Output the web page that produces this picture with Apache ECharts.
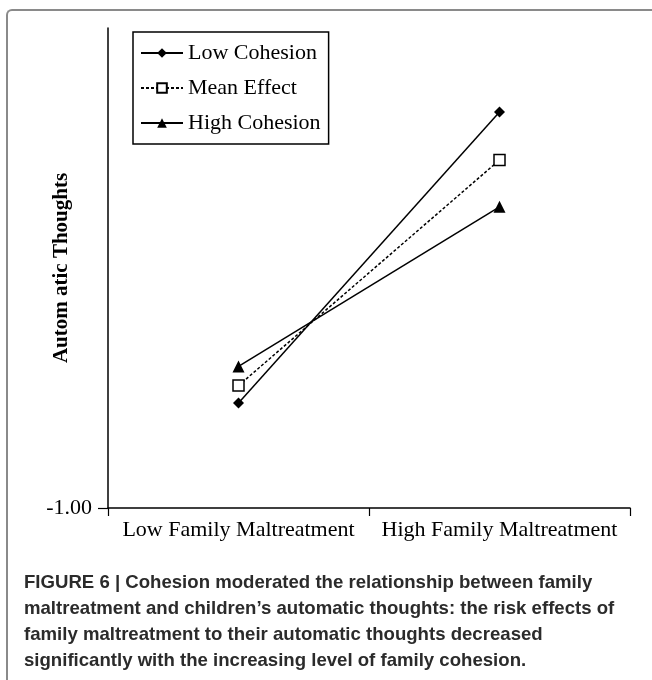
<!DOCTYPE html>
<html>
<head>
<meta charset="utf-8">
<script src="https://cdn.jsdelivr.net/npm/echarts@6/dist/echarts.min.js"></script>
<style>
  html, body { margin: 0; padding: 0; background: #fff; }
  #frame { position: absolute; left: 6px; top: 9px; width: 700px; height: 720px;
           border-left: 2px solid #8a8a8a; border-top: 2px solid #8a8a8a; border-top-left-radius: 6px; }
  #chart { position: absolute; left: 0; top: 0; width: 652px; height: 680px; }
</style>
</head>
<body>
<div id="frame"></div>
<div id="chart"></div>
<script>
const categories = ['Low Family Maltreatment', 'High Family Maltreatment'];
const seriesNames = ['Low Cohesion', 'Mean Effect', 'High Cohesion'];
const lowCohesion = [-0.5625, 0.65];
const meanEffect = [-0.49, 0.45];
const highCohesion = [-0.41, 0.255];
const yTickValues = [-1];
const yAxisName = 'Autom atic Thoughts';
const captionLines = [
  'FIGURE 6 | Cohesion moderated the relationship between family',
  'maltreatment and children\u2019s automatic thoughts: the risk effects of',
  'family maltreatment to their automatic thoughts decreased',
  'significantly with the increasing level of family cohesion.'
];

const serif = "'Liberation Serif', 'Times New Roman', serif";
const chart = echarts.init(document.getElementById('chart'));
chart.setOption({
  animation: false,
  backgroundColor: 'transparent',
  title: {
    text: captionLines.join('\n'),
    left: 19, top: 565,
    textStyle: { fontFamily: "'Liberation Sans', Arial, sans-serif", fontWeight: 'bold',
                 fontSize: 18.6, lineHeight: 26, color: '#2b2b2b' }
  },
  grid: { left: 108, right: 22, top: 28, bottom: 172 },
  legend: {
    orient: 'vertical', left: 133, top: 32,
    padding: [10, 8, 10, 7], itemGap: 13,
    itemWidth: 42, itemHeight: 12,
    borderColor: '#000', borderWidth: 1.5, backgroundColor: '#fff',
    textStyle: { fontFamily: serif, fontSize: 22, color: '#000', lineHeight: 22 },
    data: seriesNames
  },
  xAxis: {
    type: 'category', data: categories, boundaryGap: true,
    axisLine: { onZero: false, lineStyle: { color: '#000', width: 1.5 } },
    axisTick: { show: true, length: 8, lineStyle: { color: '#000', width: 1.2 } },
    axisLabel: { fontFamily: serif, fontSize: 22, color: '#000', margin: 11, interval: 0 },
    splitLine: { show: false }
  },
  yAxis: {
    type: 'value', min: -1, max: 1,
    name: yAxisName, nameLocation: 'middle', nameGap: 36, nameMoveOverlap: false,
    nameTextStyle: { fontFamily: serif, fontSize: 21, fontWeight: 'bold', color: '#000' },
    axisLine: { show: true, onZero: false, lineStyle: { color: '#000', width: 1.5 } },
    axisTick: { show: true, length: 10, customValues: yTickValues, lineStyle: { color: '#000', width: 1.2 } },
    axisLabel: { fontFamily: serif, fontSize: 22, color: '#000', margin: 16,
                 customValues: yTickValues, formatter: v => v.toFixed(2) },
    splitLine: { show: false }
  },
  series: [
    { name: seriesNames[0], type: 'line', data: lowCohesion, symbol: 'diamond', symbolSize: 11,
      lineStyle: { color: '#000', width: 1.5 }, itemStyle: { color: '#000' } },
    { name: seriesNames[1], type: 'line', data: meanEffect, symbol: 'rect', symbolSize: 11,
      lineStyle: { color: '#000', width: 1.5, type: [3, 2] },
      itemStyle: { color: '#fff', borderColor: '#000', borderWidth: 1.5 } },
    { name: seriesNames[2], type: 'line', data: highCohesion, symbol: 'triangle', symbolSize: 12,
      lineStyle: { color: '#000', width: 1.5 }, itemStyle: { color: '#000' } }
  ]
});
</script>
</body>
</html>
